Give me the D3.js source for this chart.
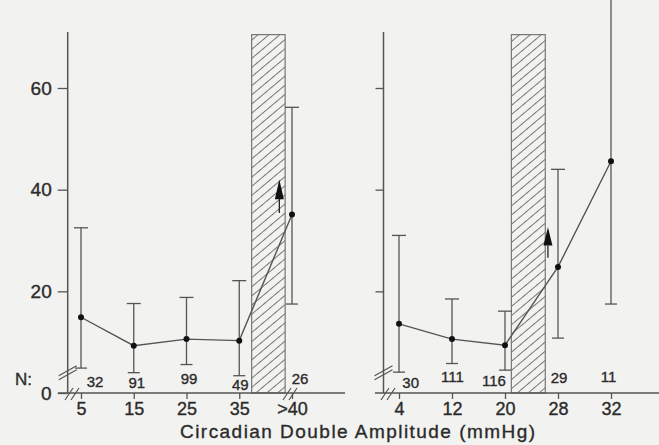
<!DOCTYPE html>
<html><head><meta charset="utf-8">
<script src="https://cdn.jsdelivr.net/npm/d3@7/dist/d3.min.js"></script>
<style>
html,body{margin:0;padding:0;background:#f2f2f0;}
svg{display:block;font-family:"Liberation Sans",Arial,sans-serif;}
svg text{stroke:#2b2b2b;stroke-width:0.35px;}
</style></head>
<body>
<svg id="chart" width="659" height="445"></svg>
<script>
// ---- data ----
const leftCategories  = ["5", "15", "25", "35", ">40"];
const leftMeans       = [14.9, 9.3, 10.6, 10.3, 35.1];
const leftUpper       = [32.5, 17.6, 18.8, 22.1, 56.2];
const leftLower       = [4.9, 4.0, 5.6, 3.4, 17.5];
const leftN           = [32, 91, 99, 49, 26];

const rightCategories = ["4", "12", "20", "28", "32"];
const rightMeans      = [13.6, 10.6, 9.4, 24.8, 45.6];
const rightUpper      = [31.0, 18.5, 16.1, 44.0, 79.0];
const rightLower      = [4.1, 5.8, 4.5, 10.8, 17.5];
const rightN          = [30, 111, 116, 29, 11];

const yTickValues     = [0, 20, 40, 60];
const xTitle          = "Circadian Double Amplitude (mmHg)";
const nPrefix         = "N:";

// ---- layout ----
const W = 659, H = 445;
const ink = "#2b2b2b", lineCol = "#555";
const svg = d3.select("#chart");

const y = d3.scaleLinear().domain([0, 60]).range([393, 88]);
const xL = d3.scalePoint().domain(leftCategories).range([81, 292]);
const xR = d3.scalePoint().domain(rightCategories).range([399, 611]);

// hatch pattern
const defs = svg.append("defs");
const pat = defs.append("pattern").attr("id", "hatch")
  .attr("patternUnits", "userSpaceOnUse").attr("width", 10).attr("height", 7)
  .attr("patternTransform", "rotate(-40)");
pat.append("line").attr("x1", 0).attr("x2", 10).attr("y1", 3.5).attr("y2", 3.5)
  .attr("stroke", "#777").attr("stroke-width", 1);

function panel(cfg) {
  const { x, cats, means, upper, lower, ns, axisX, xStart, xEnd, hatch, arrow, nDx, nBase, showLabels } = cfg;
  const g = svg.append("g");
  const step = x.step();

  // hatched region
  const hx0 = x(cats[hatch.from]) + hatch.dx0 * step;
  const hx1 = x(cats[hatch.to]) + hatch.dx1 * step;
  g.append("rect").attr("x", hx0).attr("y", y(70.5))
    .attr("width", hx1 - hx0).attr("height", y(0) - y(70.5))
    .attr("fill", "url(#hatch)").attr("stroke", "#777").attr("stroke-width", 1.2);

  // y axis
  const ax = d3.axisLeft(y).tickValues(showLabels ? yTickValues : yTickValues.slice(1))
    .tickSize(showLabels ? 10 : 8).tickPadding(6)
    .tickFormat(showLabels ? d3.format("d") : () => "");
  const ag = g.append("g").attr("transform", `translate(${axisX},0)`).call(ax);
  ag.select(".domain").remove();
  ag.selectAll(".tick line").attr("stroke", lineCol).attr("stroke-width", 1.3);
  ag.selectAll(".tick text").attr("fill", ink).attr("font-size", 19).attr("font-family", "Liberation Sans, Arial, sans-serif");
  g.append("line").attr("x1", axisX).attr("x2", axisX).attr("y1", y(71)).attr("y2", y(0))
    .attr("stroke", lineCol).attr("stroke-width", 1.5);

  // x axis
  g.append("line").attr("x1", xStart).attr("x2", xEnd).attr("y1", y(0)).attr("y2", y(0))
    .attr("stroke", lineCol).attr("stroke-width", 1.5);
  const bx = d3.axisBottom(x).tickSize(6).tickPadding(3);
  const bg = g.append("g").attr("transform", `translate(0,${y(0)})`).call(bx);
  bg.select(".domain").remove();
  bg.selectAll(".tick line").attr("stroke", lineCol).attr("stroke-width", 1.3);
  bg.selectAll(".tick text").attr("fill", ink).attr("font-size", 18).attr("font-family", "Liberation Sans, Arial, sans-serif");

  // break marks on y axis
  [0, 4].forEach(o => {
    g.append("line").attr("x1", axisX - 9).attr("y1", y(4.0) + 3 + o)
      .attr("x2", axisX + 9).attr("y2", y(4.0) - 7 + o)
      .attr("stroke", lineCol).attr("stroke-width", 1.2);
  });
  // break marks on x axis
  cfg.xBreaks.forEach(bxPos => {
    g.append("line").attr("x1", bxPos - 4).attr("y1", y(0) + 7)
      .attr("x2", bxPos + 4).attr("y2", y(0) - 5)
      .attr("stroke", lineCol).attr("stroke-width", 1.2);
  });

  // error bars
  const cap = 7;
  cats.forEach((c, i) => {
    const cx = x(c);
    g.append("line").attr("x1", cx).attr("x2", cx).attr("y1", Math.max(y(upper[i]), 0)).attr("y2", y(lower[i]))
      .attr("stroke", lineCol).attr("stroke-width", 1.3);
    if (y(upper[i]) > 0) g.append("line").attr("x1", cx - cap).attr("x2", cx + cap)
      .attr("y1", y(upper[i])).attr("y2", y(upper[i])).attr("stroke", lineCol).attr("stroke-width", 1.3);
    g.append("line").attr("x1", cx - cap + 1).attr("x2", cx + cap - 1)
      .attr("y1", y(lower[i])).attr("y2", y(lower[i])).attr("stroke", lineCol).attr("stroke-width", 1.3);
  });

  // mean line + points
  const pts = cats.map((c, i) => [x(c), y(means[i])]);
  g.append("path").attr("d", d3.line()(pts)).attr("fill", "none")
    .attr("stroke", lineCol).attr("stroke-width", 1.4);
  g.selectAll("circle.pt").data(pts).enter().append("circle")
    .attr("cx", d => d[0]).attr("cy", d => d[1]).attr("r", 3).attr("fill", "#111");

  // arrow
  const axp = x(cats[arrow.cat]) + arrow.dx * step;
  g.append("line").attr("x1", axp).attr("x2", axp).attr("y1", y(arrow.from)).attr("y2", y(arrow.headBase))
    .attr("stroke", "#222").attr("stroke-width", 1.3);
  g.append("path").attr("d",
    `M${axp},${y(arrow.to)} L${axp + 4.5},${y(arrow.headBase)} L${axp - 4.5},${y(arrow.headBase)} Z`)
    .attr("fill", "#111");

  // N labels
  g.selectAll("text.n").data(ns).enter().append("text")
    .attr("x", (d, i) => x(cats[i]) + nDx[i]).attr("y", (d, i) => nBase[i])
    .attr("text-anchor", "middle").attr("font-size", 15).attr("fill", ink).text(d => d);
}

panel({
  x: xL, cats: leftCategories, means: leftMeans, upper: leftUpper, lower: leftLower, ns: leftN,
  axisX: 67.7, xStart: 58, xEnd: 345, showLabels: true,
  hatch: { from: 3, to: 4, dx0: 0.235, dx1: -0.13 },
  arrow: { cat: 4, dx: -0.24, from: 35.4, headBase: 38.1, to: 42.0 },
  xBreaks: [69, 75, 287, 293],
  nDx: [14, 3, 2.5, 1, 8], nBase: [386.5, 387.5, 383.5, 390, 383.5]
});
panel({
  x: xR, cats: rightCategories, means: rightMeans, upper: rightUpper, lower: rightLower, ns: rightN,
  axisX: 383.5, xStart: 375, xEnd: 659, showLabels: false,
  hatch: { from: 2, to: 3, dx0: 0.12, dx1: -0.24 },
  arrow: { cat: 3, dx: -0.19, from: 26.6, headBase: 29.0, to: 32.6 },
  xBreaks: [385, 391],
  nDx: [11.7, 0.5, -11, 1, -2.5], nBase: [388, 382, 386, 382.5, 382]
});

// N: label
svg.append("text").attr("x", 15).attr("y", 385).attr("font-size", 17).attr("fill", ink).text(nPrefix);

// x title
svg.append("text").attr("x", 357.5).attr("y", 438).attr("text-anchor", "middle")
  .attr("font-size", 19).attr("textLength", 355).attr("lengthAdjust", "spacing")
  .attr("fill", ink).text(xTitle);
</script>
</body></html>
